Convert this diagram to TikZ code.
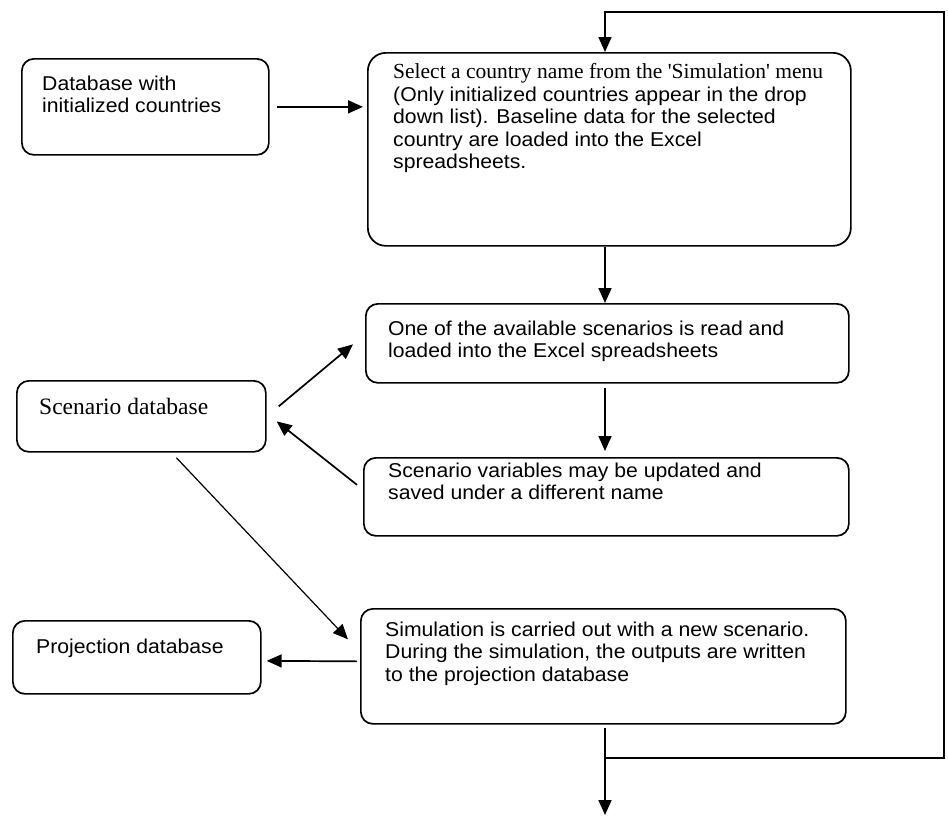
\documentclass[tikz,border=0pt]{standalone}
\usepackage{fontspec}
\setmainfont{Liberation Serif}
\setsansfont{Liberation Sans}[FakeStretch=1.06]
\usetikzlibrary{arrows.meta,calc}

\tikzset{
  box/.style={draw, line width=1.7pt, rounded corners=12pt, inner sep=0pt, anchor=north west},
  txt/.style={font=\sffamily\fontsize{20}{22.5}\selectfont, align=left, inner sep=0pt, anchor=north west},
  serif/.style={font=\rmfamily\fontsize{23.5}{22.5}\selectfont, align=left, inner sep=0pt, anchor=north west},
  arr/.style={line width=1.7pt, -{Triangle[length=15pt,width=13pt]}},
}

\begin{document}
\begin{tikzpicture}[x=1pt,y=-1pt]
\useasboundingbox (0,0) rectangle (948,817);

% boxes
\node[box, minimum width=247pt, minimum height=96pt]  (b1)   at (21,58)  {};
\node[box, minimum width=483pt, minimum height=193pt, rounded corners=18pt] (b2) at (367,52) {};
\node[box, minimum width=483pt, minimum height=79pt]  (b3)   at (365,303) {};
\node[box, minimum width=485pt, minimum height=78pt]  (b4)   at (363,457) {};
\node[box, minimum width=485pt, minimum height=115pt] (b5)   at (360,608) {};
\node[box, minimum width=249pt, minimum height=71pt]  (scen) at (16,380)  {};
\node[box, minimum width=248pt, minimum height=73pt]  (proj) at (12,620)  {};

% texts
\node[txt] (t1) at (42,75.5) {Database with\\initialized countries};
\node[txt] (t2) at (393,63.5) {{\rmfamily\fontsize{21.5}{22.5}\selectfont Select a country name from the \textquotesingle Simulation\textquotesingle\ menu}\\
  (Only initialized countries appear in the drop\\
  down list). Baseline data for the selected\\
  country are loaded into the Excel\\
  spreadsheets.};
\node[txt] (t3) at (388,320.5) {One of the available scenarios is read and\\loaded into the Excel spreadsheets};
\node[txt] (t4) at (388,462.5) {Scenario variables may be updated and\\saved under a different name};
\node[txt] (t5) at (385,621.5) {Simulation is carried out with a new scenario.\\During the simulation, the outputs are written\\to the projection database};
\node[serif] (t6) at (39,398) {Scenario database};
\node[txt] (t7) at (36,638.5) {Projection database};

% fixed points of the feedback loop
\coordinate (col) at (605,0);
\coordinate (tr)  at (944,12);
\coordinate (br)  at (944,758);
\coordinate (out) at (605,815);

% connectors
\draw[arr] ($(b1.east)+(7,0)$) -- ($(b1.east -| b2.west)+(-4,0)$);
\draw[arr] (b2.south -| col) -- (b3.north -| col);
\draw[arr] ($(b3.south -| col)+(0,4)$) -- ($(b4.north -| col)+(0,-6)$);
\draw[arr] ($(scen.east)+(12,-10)$) -- ($(b3.west)+(-12,1)$);
\draw[arr] ($(b4.west)+(-6,-12)$) -- ($(scen.east)+(10,5)$);
\draw[arr, line width=1.2pt] ($(scen.south)+(35,5)$) -- ($(b5.west)+(-12,-27)$);
\draw[arr] ($(b5.west)+(-3,-5)$) -- ($(proj.east)+(5,3.5)$);
\draw[arr] ($(b5.south -| col)+(0,3)$) -- (out);
\draw[arr] (out |- br) -- (br) -- (tr) -| (b2.north -| col);

\end{tikzpicture}
\end{document}
